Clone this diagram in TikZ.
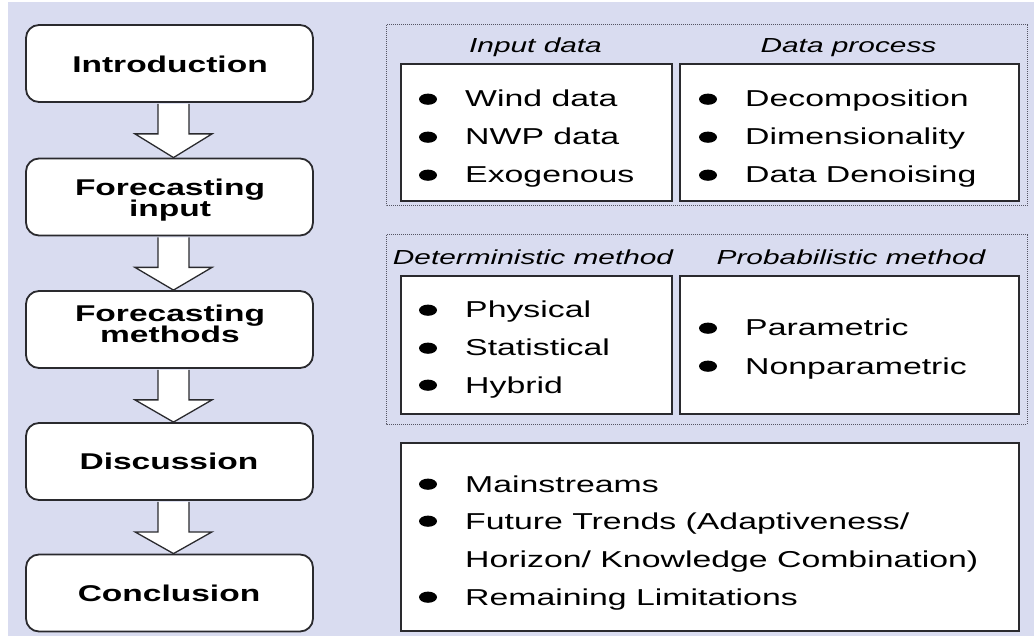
\documentclass[tikz,border=0pt]{standalone}
\usepackage{fontspec}
\setmainfont{Liberation Sans}[FakeStretch=1.47]
\usetikzlibrary{calc}

\definecolor{bgblue}{RGB}{217,220,240}
\definecolor{edge}{RGB}{42,42,46}
\definecolor{dotgray}{RGB}{85,85,100}

\tikzset{
  stage/.style={draw=edge, line width=1.8pt, fill=white, rounded corners=13pt,
    minimum width=287pt, minimum height=77pt, inner sep=0pt},
  stagelabel/.style={font=\fontsize{22.8}{22}\selectfont\bfseries, anchor=base, inner sep=0pt},
  dotframe/.style={draw=dotgray, line width=1pt, dash pattern=on 1pt off 1pt},
  panel/.style={draw=edge, line width=1.7pt, fill=white, inner sep=0pt, anchor=north west},
  grouptitle/.style={font=\fontsize{20.3}{20}\selectfont\itshape, anchor=base, inner sep=0pt},
  entry/.style={font=\fontsize{23}{23}\selectfont, anchor=base west, inner sep=0pt},
  blockarrow/.style={draw=edge, line width=1.3pt, fill=white, line join=miter},
}

% hollow block arrow from the bottom of one stage to the top of the next
\newcommand\flowarrow[2]{%
  \draw[blockarrow] let \p1=(#1.south), \p2=(#2.north) in
    ({\x1+4pt-15.5pt},{\y1-1pt}) -- ({\x1+4pt-15.5pt},{\y1-31pt})
    -- ({\x1+4pt-38.5pt},{\y1-31pt}) -- ({\x1+4pt},{\y2})
    -- ({\x1+4pt+38.5pt},{\y1-31pt}) -- ({\x1+4pt+15.5pt},{\y1-31pt})
    -- ({\x1+4pt+15.5pt},{\y1-1pt});}

% bullet point: dot plus text
\newcommand\bulletentry[4]{%
  \fill[black] (#2,#3-7.8) ellipse [x radius=9pt, y radius=5.6pt];
  \node[entry] (#1) at (#2+37,#3) {#4};}

\begin{document}
\begin{tikzpicture}[x=1pt,y=-1pt]
  \useasboundingbox (0,0) rectangle (1034,636);
  \fill[white] (0,0) rectangle (1034,636);
  \fill[bgblue] (8,2) rectangle (1034,636);

  % ---- outline of the review ----
  \node[stage] (intro) at (169.5,63.5) {};
  \node[stage] (input) at (169.5,197) {};
  \node[stage] (methods) at (169.5,329.5) {};
  \node[stage] (disc) at (169.5,461.5) {};
  \node[stage] (concl) at (169.5,593) {};

  \node[stagelabel] (introtxt) at (170,72.5) {Introduction};
  \node[stagelabel] (inputtxt1) at (170,196) {Forecasting};
  \node[stagelabel] (inputtxt2) at (170,217) {input};
  \node[stagelabel] (methtxt1) at (170,322) {Forecasting};
  \node[stagelabel] (methtxt2) at (170,343) {methods};
  \node[stagelabel] (disctxt) at (169,469.5) {Discussion};
  \node[stagelabel] (concltxt) at (169,601.5) {Conclusion};

  \flowarrow{intro}{input}
  \flowarrow{input}{methods}
  \flowarrow{methods}{disc}
  \flowarrow{disc}{concl}

  % ---- forecasting input ----
  \draw[dotframe] (386,25) rectangle (1027,206);
  \node[grouptitle] (tin) at (535.5,53) {Input data};
  \node[grouptitle] (tproc) at (848.5,53) {Data process};
  \node[panel, minimum width=271pt, minimum height=137pt] (pin) at (400,63) {};
  \node[panel, minimum width=339pt, minimum height=137pt] (pproc) at (679,63) {};
  \bulletentry{wind}{428}{107}{Wind data}
  \bulletentry{nwp}{428}{145}{NWP data}
  \bulletentry{exo}{428}{183}{Exogenous}
  \bulletentry{decomp}{708}{107}{Decomposition}
  \bulletentry{dim}{708}{145}{Dimensionality}
  \bulletentry{denoise}{708}{183}{Data Denoising}

  % ---- forecasting methods ----
  \draw[dotframe] (386,235) rectangle (1027,424);
  \node[grouptitle] (tdet) at (533,265) {Deterministic method};
  \node[grouptitle] (tprob) at (851,265) {Probabilistic method};
  \node[panel, minimum width=271pt, minimum height=138pt] (pdet) at (400,275) {};
  \node[panel, minimum width=339pt, minimum height=138pt] (pprob) at (679,275) {};
  \bulletentry{phys}{428}{318}{Physical}
  \bulletentry{stat}{428}{356}{Statistical}
  \bulletentry{hyb}{428}{393}{Hybrid}
  \bulletentry{param}{708}{336}{Parametric}
  \bulletentry{nonparam}{708}{374}{Nonparametric}

  % ---- discussion ----
  \node[panel, minimum width=618pt, minimum height=188pt] (pdisc) at (400,442) {};
  \bulletentry{mainstr}{428}{492}{Mainstreams}
  \bulletentry{future}{428}{529}{Future Trends (Adaptiveness/}
  \node[entry] (horizon) at (465,567) {Horizon/ Knowledge Combination)};
  \bulletentry{limits}{428}{605}{Remaining Limitations}
\end{tikzpicture}
\end{document}
